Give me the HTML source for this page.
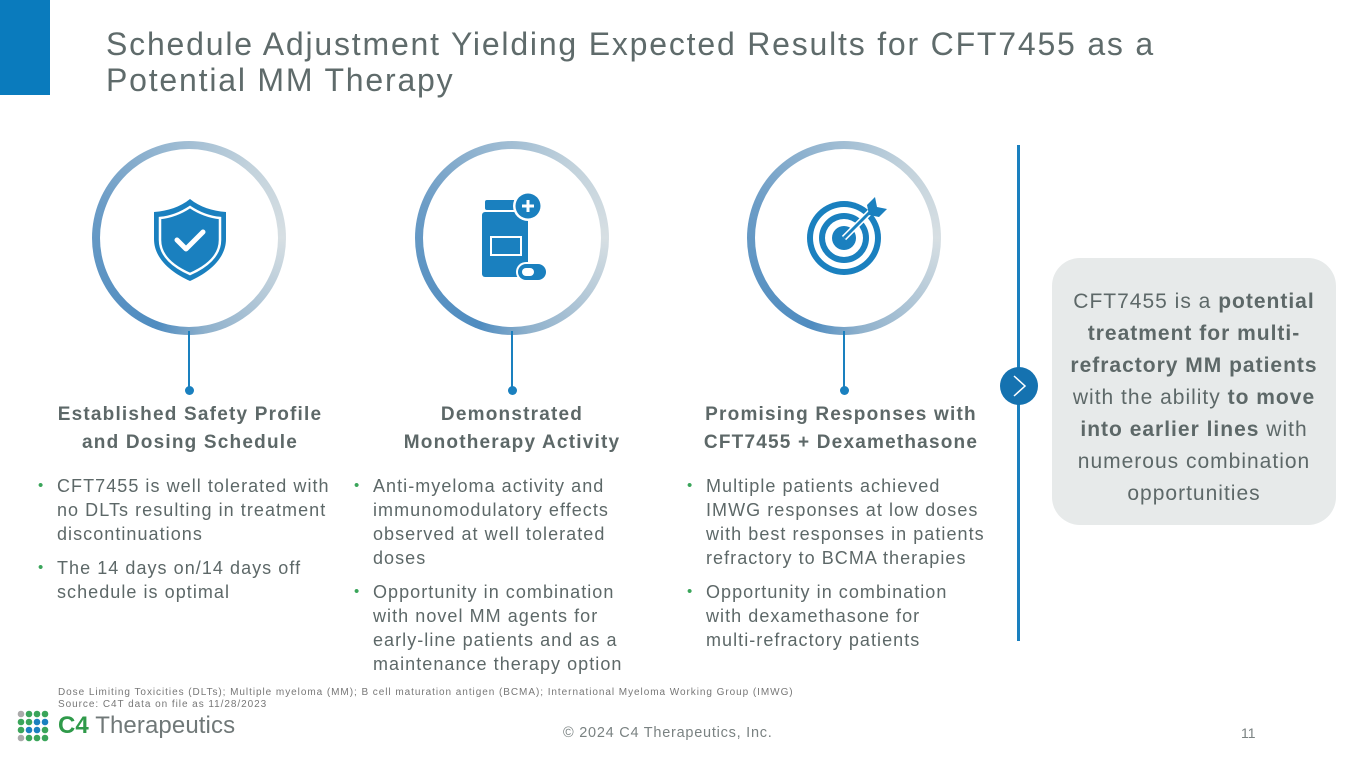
<!DOCTYPE html>
<html><head><style>
*{margin:0;padding:0;box-sizing:border-box}
body{width:1365px;height:768px;position:relative;background:#fff;font-family:"Liberation Sans",sans-serif;color:#5d6868;overflow:hidden}
.a{position:absolute}
.title{left:106px;top:26px;font-size:32px;line-height:36px;color:#5f6b6b;letter-spacing:1.8px;white-space:nowrap}
.ring{position:absolute;width:194px;height:194px;border-radius:50%;background:conic-gradient(from 200deg,#4f8cc0,#6b9cc6 90deg,#c2d2dc 200deg,#d7dfe3 250deg,#8fb1cc 330deg,#4f8cc0);}
.ring::after{content:"";position:absolute;left:8px;top:8px;right:8px;bottom:8px;border-radius:50%;background:#fff}
.vl{position:absolute;width:2px;background:#1a80bf;top:331px;height:58px}
.dot{position:absolute;width:9px;height:9px;border-radius:50%;background:#1a80bf;top:386px}
.h{position:absolute;text-align:center;font-weight:bold;font-size:19px;line-height:28px;color:#5d6868;letter-spacing:1.2px;white-space:nowrap}
.b{position:absolute;font-size:18px;line-height:24px;color:#5d6868;white-space:nowrap;letter-spacing:1.05px}
.b p{position:relative;margin-bottom:10px}
.b p::before{content:"•";position:absolute;left:-19px;color:#3aa55a;font-size:15px}
</style></head><body>
<div class="a" style="left:0;top:0;width:50px;height:95px;background:#0a7bbd"></div>
<div class="a title">Schedule Adjustment Yielding Expected Results for CFT7455 as a<br>Potential MM Therapy</div>

<div class="ring" style="left:92px;top:141px"></div>
<div class="ring" style="left:415px;top:141px"></div>
<div class="ring" style="left:747px;top:141px"></div>

<svg class="a" style="left:150px;top:195px" width="80" height="90" viewBox="0 0 80 90">
<path d="M40 4 C30 12 18 16 4 17 L4 44 C4 64 22 78 40 86 C58 78 76 64 76 44 L76 17 C62 16 50 12 40 4Z" fill="#1a80bf"/>
<path d="M40 12 C31 18 21 22 10 23 L10 45 C10 61 24 72 40 79 C56 72 70 61 70 45 L70 23 C59 22 49 18 40 12Z" fill="none" stroke="#fff" stroke-width="2.5"/>
<path d="M27 45 L36 54 L53 37" fill="none" stroke="#fff" stroke-width="5" stroke-linecap="round" stroke-linejoin="round"/>
</svg>
<svg class="a" style="left:480px;top:190px" width="70" height="95" viewBox="0 0 70 95">
<rect x="5" y="10" width="42" height="10" rx="2" fill="#1a80bf"/>
<rect x="2" y="22" width="46" height="65" rx="3" fill="#1a80bf"/>
<rect x="10" y="46" width="32" height="20" fill="#fff"/>
<rect x="12" y="48" width="28" height="16" fill="#1a80bf"/>
<circle cx="48" cy="16" r="15" fill="#fff"/><circle cx="48" cy="16" r="12.5" fill="#1a80bf"/>
<path d="M48 10v12M42 16h12" stroke="#fff" stroke-width="3"/>
<rect x="36" y="72" width="32" height="20" rx="10" fill="#fff"/>
<rect x="38" y="74" width="28" height="16" rx="8" fill="#1a80bf"/>
<rect x="42" y="78" width="12" height="8" rx="4" fill="#fff"/>
</svg>
<svg class="a" style="left:803px;top:193px" width="90" height="90" viewBox="0 0 90 90">
<circle cx="41" cy="45" r="37" fill="#1a80bf"/><circle cx="41" cy="45" r="31" fill="#fff"/>
<circle cx="41" cy="45" r="25" fill="#1a80bf"/><circle cx="41" cy="45" r="19" fill="#fff"/>
<circle cx="41" cy="45" r="12" fill="#1a80bf"/>
<path d="M41 45 L70 16" stroke="#fff" stroke-width="6"/>
<path d="M41 45 L70 16" stroke="#1a80bf" stroke-width="3"/>
<path d="M64 12 L72 4 L74 14 L84 16 L76 24 L66 22Z" fill="#1a80bf"/>
</svg>

<div class="vl" style="left:188px"></div><div class="dot" style="left:185px"></div>
<div class="vl" style="left:511px"></div><div class="dot" style="left:508px"></div>
<div class="vl" style="left:843px"></div><div class="dot" style="left:840px"></div>

<div class="h" style="left:40px;top:401px;width:300px">Established Safety Profile<br>and Dosing Schedule</div>
<div class="h" style="left:362px;top:401px;width:300px">Demonstrated<br>Monotherapy Activity</div>
<div class="h" style="left:680px;top:401px;width:322px">Promising Responses with<br>CFT7455 + Dexamethasone</div>

<div class="b" style="left:57px;top:474px"><p>CFT7455 is well tolerated with<br>no DLTs resulting in treatment<br>discontinuations</p><p>The 14 days on/14 days off<br>schedule is optimal</p></div>
<div class="b" style="left:373px;top:474px"><p>Anti-myeloma activity and<br>immunomodulatory effects<br>observed at well tolerated<br>doses</p><p>Opportunity in combination<br>with novel MM agents for<br>early-line patients and as a<br>maintenance therapy option</p></div>
<div class="b" style="left:706px;top:474px"><p>Multiple patients achieved<br>IMWG responses at low doses<br>with best responses in patients<br>refractory to BCMA therapies</p><p>Opportunity in combination<br>with dexamethasone for<br>multi-refractory patients</p></div>

<div class="a" style="left:1017px;top:145px;width:3px;height:496px;background:#1a80bf"></div>
<div class="a" style="left:1000px;top:367px;width:38px;height:38px;border-radius:50%;background:#1572b0"></div>
<svg class="a" style="left:1000px;top:367px" width="38" height="38"><path d="M14 9 L25 19 L14 29" fill="none" stroke="#fff" stroke-width="1.5"/></svg>
<div class="a" style="left:1052px;top:258px;width:284px;height:267px;border-radius:28px;background:#e7eaea"></div>
<div class="a" style="left:1052px;top:286px;width:284px;text-align:center;font-size:21px;line-height:32px;color:#5d6868;white-space:nowrap;letter-spacing:1px">CFT7455 is a <b>potential</b><br><b>treatment for multi-</b><br><b>refractory MM patients</b><br>with the ability <b>to move</b><br><b>into earlier lines</b> with<br>numerous combination<br>opportunities</div>

<div class="a" style="left:58px;top:687px;font-size:10px;line-height:12px;color:#777;letter-spacing:0.95px">Dose Limiting Toxicities (DLTs); Multiple myeloma (MM); B cell maturation antigen (BCMA); International Myeloma Working Group (IMWG)<br>Source: C4T data on file as 11/28/2023</div>
<svg class="a" style="left:17px;top:710px" width="40" height="36">
<circle cx="4" cy="4" r="3.3" fill="#aaa"/><circle cx="12" cy="4" r="3.3" fill="#3aa55a"/><circle cx="20" cy="4" r="3.3" fill="#3aa55a"/><circle cx="28" cy="4" r="3.3" fill="#3aa55a"/>
<circle cx="4" cy="12" r="3.3" fill="#3aa55a"/><circle cx="12" cy="12" r="3.3" fill="#3aa55a"/><circle cx="20" cy="12" r="3.3" fill="#1a80bf"/><circle cx="28" cy="12" r="3.3" fill="#1a80bf"/>
<circle cx="4" cy="20" r="3.3" fill="#3aa55a"/><circle cx="12" cy="20" r="3.3" fill="#1a80bf"/><circle cx="20" cy="20" r="3.3" fill="#1a80bf"/><circle cx="28" cy="20" r="3.3" fill="#3aa55a"/>
<circle cx="4" cy="28" r="3.3" fill="#aaa"/><circle cx="12" cy="28" r="3.3" fill="#3aa55a"/><circle cx="20" cy="28" r="3.3" fill="#3aa55a"/><circle cx="28" cy="28" r="3.3" fill="#3aa55a"/>
</svg>
<div class="a" style="left:58px;top:713px;font-size:24px;line-height:26px;color:#707878;letter-spacing:0.1px"><b style="color:#2f9a4a">C4</b> Therapeutics</div>
<div class="a" style="left:563px;top:725px;font-size:14.5px;color:#7a8282;letter-spacing:0.75px">© 2024 C4 Therapeutics, Inc.</div>
<div class="a" style="left:1241px;top:725px;font-size:14px;color:#7a8282">11</div>
</body></html>
